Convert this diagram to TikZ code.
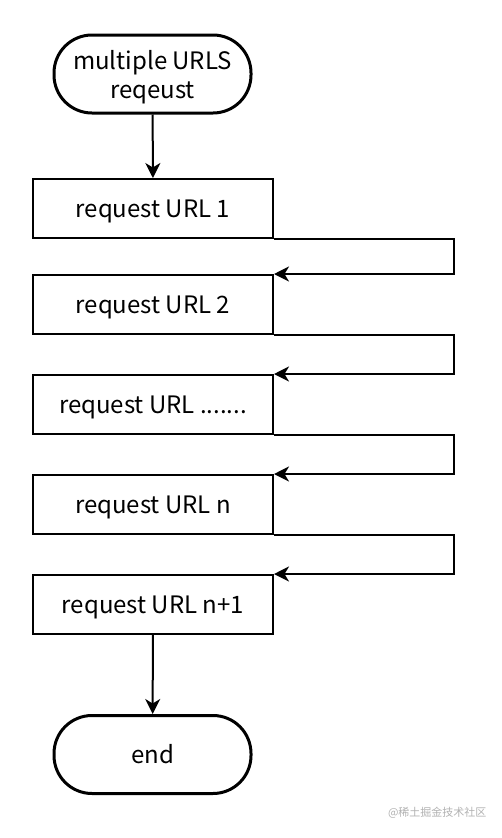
\documentclass[tikz,border=0pt]{standalone}
\usepackage{fontspec}
\setmainfont{Noto Sans CJK SC}
\newfontfamily\cjk{Noto Sans CJK SC}
\usetikzlibrary{arrows.meta}
\begin{document}
\begin{tikzpicture}[x=1pt,y=-1pt,
  stepbox/.style={draw, line width=2pt, minimum width=240pt, minimum height=59pt, inner sep=0pt, text height=22pt, text depth=3.5pt, font=\fontsize{24}{29}\selectfont},
  term/.style={draw, line width=3pt, rounded corners=38pt, minimum width=197pt, minimum height=78pt, inner sep=0pt, align=center, font=\fontsize{24}{29}\selectfont},
  link/.style={line width=2pt, -{Stealth[length=15pt,width=15pt,inset=4.5pt]}}]
\useasboundingbox[fill=white] (0,0) rectangle (502,838);
\node[term] (start) at (152.5,74) {\rule{0pt}{24.5pt}multiple URLS\\reqeust};
\node[stepbox] (b1) at (153,208.5) {request URL 1};
\node[stepbox] (b2) at (153,304.5) {request URL 2};
\node[stepbox] (b3) at (153,404.5) {request URL .......};
\node[stepbox] (b4) at (153,504.5) {request URL n};
\node[stepbox] (b5) at (153,604.5) {request URL n+1};
\node[term] (end) at (152.5,754.5) {end};
\node[text=black!30, font=\cjk\fontsize{11}{12}\selectfont, anchor=east] (wm) at (490,813) {@稀土掘金技术社区};
\draw[link] (start) -- (b1);
\draw[link] (b1.south east) -- ++(180,0) |- (b2.north east);
\draw[link] (b2.south east) -- ++(180,0) |- (b3.north east);
\draw[link] (b3.south east) -- ++(180,0) |- (b4.north east);
\draw[link] (b4.south east) -- ++(180,0) |- (b5.north east);
\draw[link] (b5) -- (end);
\end{tikzpicture}
\end{document}
